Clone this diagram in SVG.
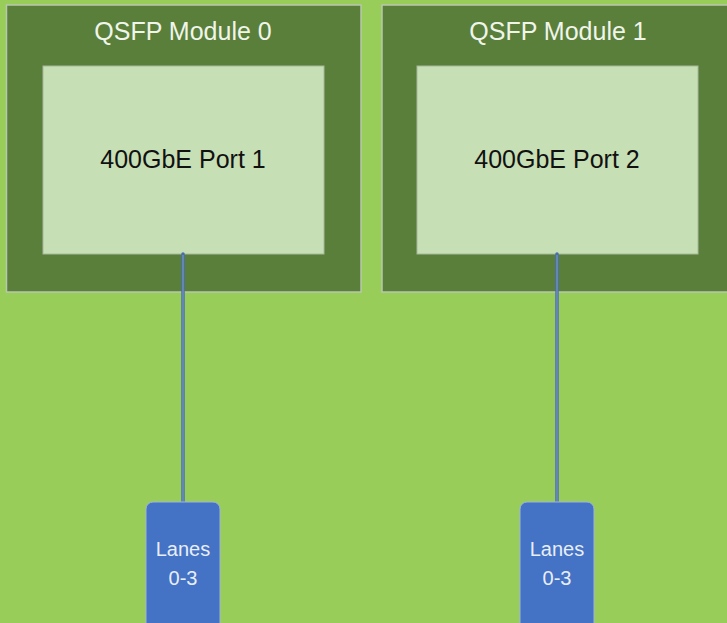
<svg xmlns="http://www.w3.org/2000/svg" width="727" height="623" viewBox="0 0 727 623">
<style>
.outer{fill:#5a7f3b;stroke:#b9c7ad;stroke-width:1.5}
.inner{fill:#c6dfb5;stroke:#aab89e;stroke-width:1}
.title{font-family:"Liberation Sans",Arial,sans-serif;font-size:25px;fill:#f0f5ea;text-anchor:middle}
.port{font-family:"Liberation Sans",Arial,sans-serif;font-size:25px;fill:#111111;text-anchor:middle}
.lane{fill:#4472c4;stroke:#9fb4d8;stroke-width:1}
.lanet{font-family:"Liberation Sans",Arial,sans-serif;font-size:20px;fill:#e8eef8;text-anchor:middle}
.wire{stroke:#4a6fa8;stroke-width:3.5;stroke-linecap:round;fill:none}
.wirein{stroke:#7d9cc6;stroke-width:1;fill:none}
</style>
<rect x="0" y="0" width="727" height="623" fill="#99cd5a"/>
<g id="module0">
<rect class="outer" x="6.5" y="5" width="354.5" height="287"/>
<text class="title" x="183" y="40">QSFP Module 0</text>
</g>
<g id="port1">
<rect class="inner" x="43" y="66" width="281" height="188"/>
<text class="port" x="183" y="168">400GbE Port 1</text>
</g>
<g id="module1">
<rect class="outer" x="382" y="5" width="350" height="287"/>
<text class="title" x="558" y="40">QSFP Module 1</text>
</g>
<g id="port2">
<rect class="inner" x="417" y="66" width="281" height="188"/>
<text class="port" x="557" y="168">400GbE Port 2</text>
</g>
<g id="connectors">
<line class="wire" x1="183" y1="254" x2="183" y2="503"/>
<line class="wirein" x1="183" y1="255" x2="183" y2="502"/>
<line class="wire" x1="557" y1="254" x2="557" y2="503"/>
<line class="wirein" x1="557" y1="255" x2="557" y2="502"/>
</g>
<g id="lanes0">
<rect class="lane" x="146" y="502" width="74" height="135" rx="7"/>
<text class="lanet" x="183" y="556">Lanes</text>
<text class="lanet" x="183" y="585">0-3</text>
</g>
<g id="lanes1">
<rect class="lane" x="520" y="502" width="74" height="135" rx="7"/>
<text class="lanet" x="557" y="556">Lanes</text>
<text class="lanet" x="557" y="585">0-3</text>
</g>
</svg>
